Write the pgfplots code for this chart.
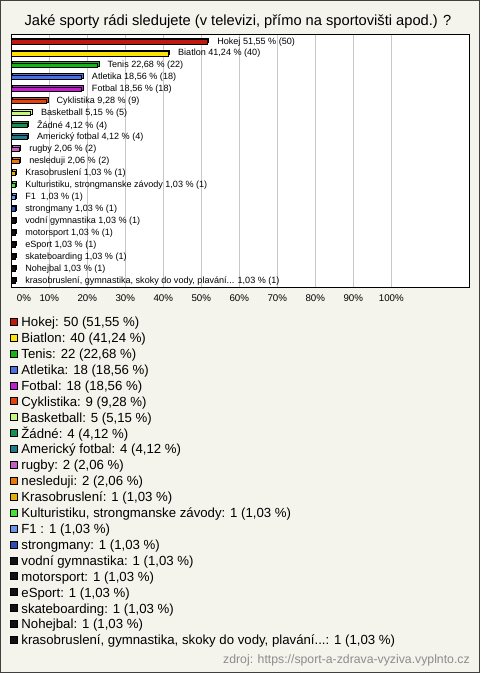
\documentclass[border=0pt]{standalone}
\usepackage{fontspec}
\setmainfont{Liberation Sans}
\usepackage{pgfplots}
\pgfplotsset{compat=1.18}
\definecolor{bg}{HTML}{F4F3EC}
\definecolor{cA}{HTML}{C1190C}
\definecolor{cB}{HTML}{FCE205}
\definecolor{cC}{HTML}{14B414}
\definecolor{cD}{HTML}{4A70E2}
\definecolor{cE}{HTML}{C01ED0}
\definecolor{cF}{HTML}{E4420C}
\definecolor{cG}{HTML}{C8F57C}
\definecolor{cH}{HTML}{158F52}
\definecolor{cI}{HTML}{1F7B8A}
\definecolor{cJ}{HTML}{C45DC4}
\definecolor{cK}{HTML}{E8780E}
\definecolor{cL}{HTML}{E2AE08}
\definecolor{cM}{HTML}{46E03A}
\definecolor{cN}{HTML}{6A94E8}
\definecolor{cO}{HTML}{2C4DB5}
\definecolor{cP}{HTML}{111111}
\pgfplotsset{sqlegend/.style={legend image code/.code={\draw[##1,draw=black,line width=0.5pt] (0pt,-1.4pt) rectangle (5.25pt,3.85pt);}}}
\newcommand{\mybar}[5]{%
\addplot[forget plot, fill=#3, draw=black, line width=0.6pt, xshift=1.1pt, yshift=1.1pt] coordinates {(#2,#1)};
\addplot[fill=#3, draw=black, line width=0.6pt, nodes near coords={#4}, sqlegend] coordinates {(#2,#1)};
\addlegendentry{#5}
}
\begin{document}
\begin{tikzpicture}
\useasboundingbox (0,0) rectangle (360pt,-504.75pt);
\draw[fill=bg, draw=black!75, line width=0.75pt] (0.375pt,-0.375pt) rectangle (359.625pt,-504.375pt);
\node[font=\fontsize{11}{13}\selectfont, anchor=base] at (178.5pt,-19.4pt) {Jaké sporty rádi sledujete (v televizi, přímo na sportovišti apod.) ?};
\node[font=\fontsize{9.2}{11}\selectfont, anchor=base east, text=black!45, inner sep=0pt] at (352.5pt,-497.5pt) {zdroj: https://sport-a-zdrava-vyziva.vyplnto.cz};
\begin{axis}[
 at={(8.475pt,-25.875pt)}, anchor=north west,
 scale only axis, width=344pt, height=189.75pt,
 xbar, bar width=3.4pt, bar shift=0pt,
 xmin=0, xmax=120.7, ymin=-0.6, ymax=20.55, y dir=reverse,
 xtick={0,10,...,100},
 xticklabels={\hspace{19pt}0\%,10\%,20\%,30\%,40\%,50\%,60\%,70\%,80\%,90\%,100\%},
 ytick=\empty,
 major tick length=0pt,
 xmajorgrids, grid style={draw=black!22, line width=0.75pt},
 axis line style={line width=0.75pt, black},
 axis background/.style={fill=white},
 xticklabel style={font=\fontsize{7.3}{8}\selectfont, anchor=center, yshift=-7.9pt},
 nodes near coords style={anchor=west, inner sep=0pt, xshift=7.3pt, font=\fontsize{6.8}{8}\selectfont, text=black},
 clip=false,
 legend cell align=left,
 legend style={at={(axis description cs:-0.0028,-0.117)}, anchor=north west, draw=none, fill=none, inner sep=0pt, outer sep=0pt, font=\fontsize{9.9}{11}\selectfont, row sep=2.53pt, column sep=2.8pt, nodes={inner sep=0pt, text height=7.2pt, text depth=2.2pt}},
]
\mybar{0}{51.55}{cA}{Hokej 51,55 \% (50)}{Hokej: 50 (51,55 \%)}
\mybar{1}{41.24}{cB}{Biatlon 41,24 \% (40)}{Biatlon: 40 (41,24 \%)}
\mybar{2}{22.68}{cC}{Tenis 22,68 \% (22)}{Tenis: 22 (22,68 \%)}
\mybar{3}{18.56}{cD}{Atletika 18,56 \% (18)}{Atletika: 18 (18,56 \%)}
\mybar{4}{18.56}{cE}{Fotbal 18,56 \% (18)}{Fotbal: 18 (18,56 \%)}
\mybar{5}{9.28}{cF}{Cyklistika 9,28 \% (9)}{Cyklistika: 9 (9,28 \%)}
\mybar{6}{5.15}{cG}{Basketball 5,15 \% (5)}{Basketball: 5 (5,15 \%)}
\mybar{7}{4.12}{cH}{Žádné 4,12 \% (4)}{Žádné: 4 (4,12 \%)}
\mybar{8}{4.12}{cI}{Americký fotbal 4,12 \% (4)}{Americký fotbal: 4 (4,12 \%)}
\mybar{9}{2.06}{cJ}{rugby 2,06 \% (2)}{rugby: 2 (2,06 \%)}
\mybar{10}{2.06}{cK}{nesleduji 2,06 \% (2)}{nesleduji: 2 (2,06 \%)}
\mybar{11}{1.03}{cL}{Krasobruslení 1,03 \% (1)}{Krasobruslení: 1 (1,03 \%)}
\mybar{12}{1.03}{cM}{Kulturistiku, strongmanske závody 1,03 \% (1)}{Kulturistiku, strongmanske závody: 1 (1,03 \%)}
\mybar{13}{1.03}{cN}{F1\ \ 1,03 \% (1)}{F1 : 1 (1,03 \%)}
\mybar{14}{1.03}{cO}{strongmany 1,03 \% (1)}{strongmany: 1 (1,03 \%)}
\mybar{15}{1.03}{cP}{vodní gymnastika 1,03 \% (1)}{vodní gymnastika: 1 (1,03 \%)}
\mybar{16}{1.03}{cP}{motorsport 1,03 \% (1)}{motorsport: 1 (1,03 \%)}
\mybar{17}{1.03}{cP}{eSport 1,03 \% (1)}{eSport: 1 (1,03 \%)}
\mybar{18}{1.03}{cP}{skateboarding 1,03 \% (1)}{skateboarding: 1 (1,03 \%)}
\mybar{19}{1.03}{cP}{Nohejbal 1,03 \% (1)}{Nohejbal: 1 (1,03 \%)}
\mybar{20}{1.03}{cP}{krasobruslení, gymnastika, skoky do vody, plavání... 1,03 \% (1)}{krasobruslení, gymnastika, skoky do vody, plavání...: 1 (1,03 \%)}
\end{axis}
\end{tikzpicture}
\end{document}
